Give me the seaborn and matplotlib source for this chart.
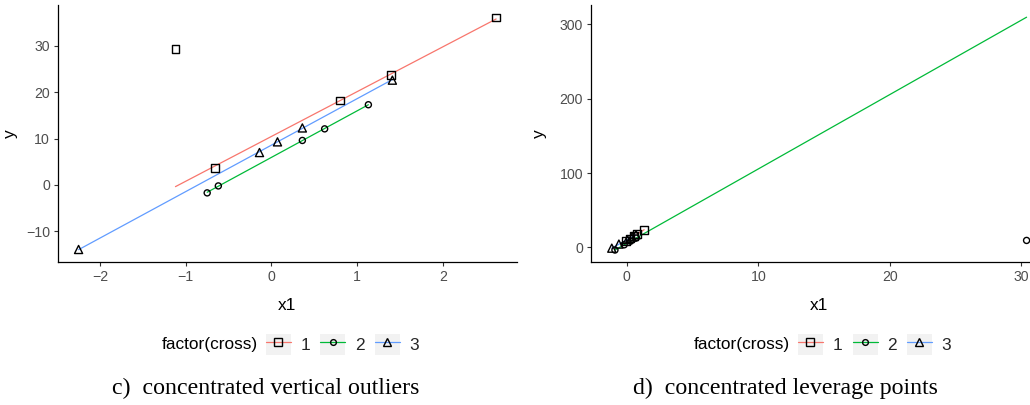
import numpy as np
import pandas as pd
import matplotlib
matplotlib.use("Agg")
import matplotlib.pyplot as plt
import seaborn as sns
from matplotlib.lines import Line2D
from matplotlib.patches import Rectangle
from matplotlib.legend_handler import HandlerLine2D

# ---- panel c: concentrated vertical outliers ----
c_cross = [1, 1, 1, 1, 1, 2, 2, 2, 2, 2, 3, 3, 3, 3, 3]
c_x1 = [-1.12, -0.66, 0.80, 1.39, 2.62,
        -0.75, -0.62, 0.36, 0.62, 1.13,
        -2.25, -0.14, 0.07, 0.36, 1.41]
c_y = [29.4, 3.6, 18.2, 23.8, 36.1,
       -1.7, -0.2, 9.6, 12.1, 17.3,
       -13.9, 7.0, 9.3, 12.3, 22.6]

# ---- panel d: concentrated leverage points ----
d_cross = [1, 1, 1, 1, 1, 2, 2, 2, 2, 2, 3, 3, 3, 3, 3]
d_x1 = [-0.05, 0.25, 0.55, 0.80, 1.32,
        -0.90, -0.20, 0.30, 0.70, 30.40,
        -1.14, -0.60, 0.05, 0.40, 0.70]
d_y = [9.0, 12.0, 15.5, 18.0, 23.8,
       -3.5, 3.5, 8.5, 12.6, 9.4,
       -1.0, 4.5, 10.5, 14.0, 17.0]

levels = [1, 2, 3]
line_colors = ["#F8766D", "#00BA38", "#619CFF"]
shapes = ["s", "o", "^"]
shape_sizes = {1: 32, 2: 19, 3: 34}
captions = ["c)  concentrated vertical outliers", "d)  concentrated leverage points"]

GREY30 = "#4D4D4D"


def theil_sen(x, y):
    """Median of pairwise slopes, median intercept."""
    x = np.asarray(x, float)
    y = np.asarray(y, float)
    i, j = np.triu_indices(len(x), 1)
    slope = np.median((y[j] - y[i]) / (x[j] - x[i]))
    intercept = np.median(y - slope * x)
    return intercept, slope


def robust_fits(df):
    rows = []
    for lev in levels:
        g = df[df["cross"] == lev]
        a, b = theil_sen(g["x1"], g["y"])
        xs = np.linspace(g["x1"].min(), g["x1"].max(), 50)
        rows.append(pd.DataFrame({"x1": xs, "y": a + b * xs, "cross": lev}))
    return pd.concat(rows, ignore_index=True)


class KeyHandler(HandlerLine2D):
    """Legend key drawn on a light grey square, ggplot style."""

    def create_artists(self, legend, orig_handle, xdescent, ydescent,
                       width, height, fontsize, trans):
        arts = super().create_artists(legend, orig_handle, xdescent, ydescent,
                                      width, height, fontsize, trans)
        bg = Rectangle((-xdescent, -ydescent), width, height,
                       facecolor="#F2F2F2", edgecolor="none", transform=trans)
        return [bg] + list(arts)


sns.set_style("ticks")
plt.rcParams["font.family"] = ["Liberation Sans", "DejaVu Sans"]
plt.rcParams["axes.linewidth"] = 0.9

fig = plt.figure(figsize=(10.30, 4.05), dpi=100)
W, H = 1030.0, 405.0

panels = [
    dict(df=pd.DataFrame({"x1": c_x1, "y": c_y, "cross": c_cross}),
         rect=(58, 5, 516.7, 262), xlim=(-2.49, 2.86), ylim=(-16.6, 38.8),
         xt=[-2, -1, 0, 1, 2], yt=[-10, 0, 10, 20, 30],
         ylab_x=-0.087, legend_left=265.7, title_right=258, cap_x=265.5),
    dict(df=pd.DataFrame({"x1": d_x1, "y": d_y, "cross": d_cross}),
         rect=(591, 5, 1047.5, 262), xlim=(-2.72, 31.99), ylim=(-19.6, 325.9),
         xt=[0, 10, 20, 30], yt=[0, 100, 200, 300],
         ylab_x=-0.097, legend_left=798, title_right=790, cap_x=785.5),
]

for k, p in enumerate(panels):
    x0, y0, x1p, y1p = p["rect"]
    ax = fig.add_axes([x0 / W, 1 - y1p / H, (x1p - x0) / W, (y1p - y0) / H])
    df = p["df"]
    fit = robust_fits(df)

    sns.lineplot(data=fit, x="x1", y="y", hue="cross", palette=line_colors,
                 hue_order=levels, estimator=None, sort=True, lw=0.9,
                 legend=False, ax=ax, zorder=2)
    sns.scatterplot(data=df, x="x1", y="y", style="cross", style_order=levels,
                    markers=shapes, size="cross", sizes=shape_sizes,
                    color="black", facecolor="none", edgecolor="black",
                    linewidth=1.0, legend=False, ax=ax, zorder=3)

    ax.set_xlim(*p["xlim"])
    ax.set_ylim(*p["ylim"])
    ax.set_xticks(p["xt"])
    ax.set_yticks(p["yt"])
    ax.tick_params(axis="both", length=3.2, width=0.8, color="#333333",
                   labelsize=10.2, labelcolor=GREY30, pad=2.5)
    sns.despine(ax=ax)
    for side in ("left", "bottom"):
        ax.spines[side].set_color("black")
    ax.set_xlabel("x1", fontsize=12.4, color="black")
    ax.set_ylabel("y", fontsize=12.4, color="black")
    ax.xaxis.set_label_coords(0.5, -0.14)
    ax.yaxis.set_label_coords(p["ylab_x"], 0.5)

    # legend: title text followed by three keys
    handles = [Line2D([], [], color=c, lw=0.9, marker=m,
                      markersize=np.sqrt(shape_sizes[v]) * 0.95,
                      markerfacecolor="none", markeredgecolor="black",
                      markeredgewidth=1.0)
               for c, m, v in zip(line_colors, shapes, levels)]
    fig.text(p["title_right"] / W, 1 - 345 / H, "factor(cross)",
             ha="right", va="center", fontsize=12.4, color="black")
    fig.legend(handles, [str(v) for v in levels], ncol=3, frameon=False,
               loc="center left", bbox_to_anchor=(p["legend_left"] / W, 1 - 344.5 / H),
               borderaxespad=0, borderpad=0, fontsize=12.4,
               handlelength=1.45, handleheight=1.45, handletextpad=0.55,
               columnspacing=0.6, handler_map={Line2D: KeyHandler()})

    fig.text(p["cap_x"] / W, 1 - 394 / H, captions[k], ha="center",
             va="baseline", fontsize=17.2, family="Liberation Serif",
             color="black")

fig.savefig("out.png", dpi=100)
